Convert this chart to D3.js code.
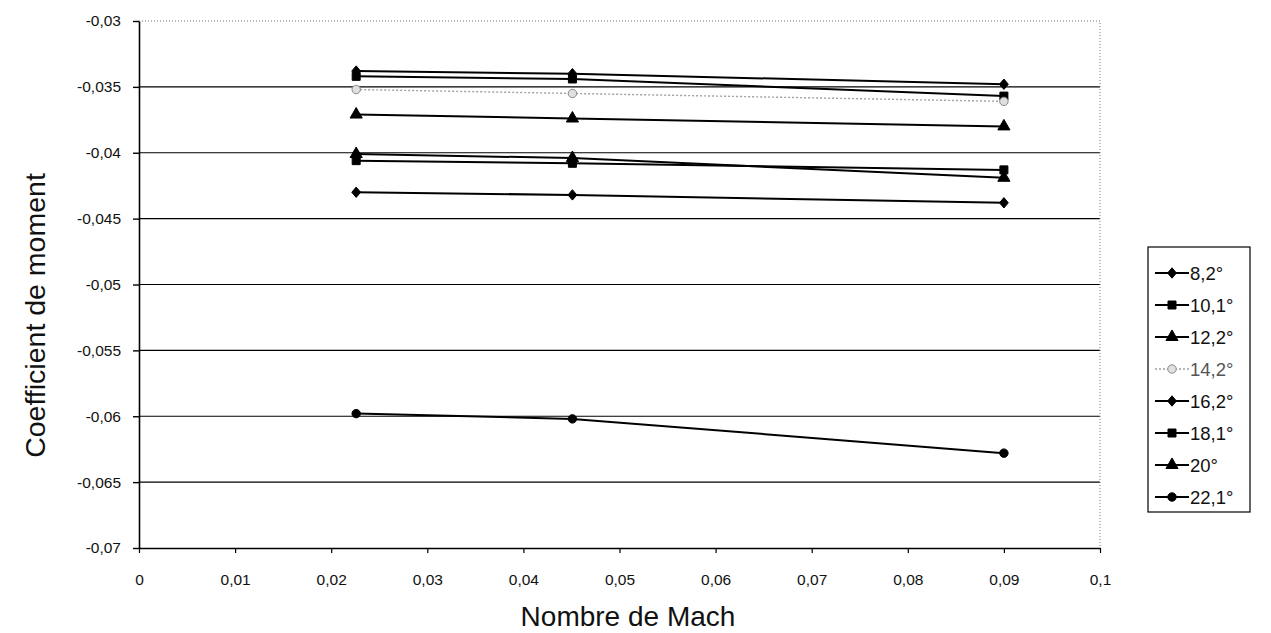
<!DOCTYPE html>
<html>
<head>
<meta charset="utf-8">
<script src="https://cdn.jsdelivr.net/npm/d3@7"></script>
<style>
  html, body { margin: 0; padding: 0; background: #fff; }
  svg { display: block; font-family: Arial, "Liberation Sans", sans-serif; }
</style>
</head>
<body>
<svg id="chart" width="1271" height="633"></svg>
<script>
// Mach numbers at which the moment coefficient was measured
const mach = [0.0226, 0.0451, 0.0900];

// Angle-of-attack series names
const seriesNames = ["8,2°", "10,1°", "12,2°", "14,2°", "16,2°", "18,1°", "20°", "22,1°"];

// Moment coefficient per series (one value per Mach number)
const cm_8_2  = [-0.0338, -0.0340, -0.0348];
const cm_10_1 = [-0.0342, -0.0344, -0.0357];
const cm_12_2 = [-0.0371, -0.0374, -0.0380];
const cm_14_2 = [-0.0352, -0.0355, -0.0361];
const cm_16_2 = [-0.0430, -0.0432, -0.0438];
const cm_18_1 = [-0.0406, -0.0408, -0.0413];
const cm_20   = [-0.0401, -0.0404, -0.0419];
const cm_22_1 = [-0.0598, -0.0602, -0.0628];

const seriesValues = [cm_8_2, cm_10_1, cm_12_2, cm_14_2, cm_16_2, cm_18_1, cm_20, cm_22_1];
const seriesMarkers = ["diamond", "square", "triangle", "circle", "diamond", "square", "triangle", "circle"];

// Axis ticks and their labels
const xTicks = [0, 0.01, 0.02, 0.03, 0.04, 0.05, 0.06, 0.07, 0.08, 0.09, 0.1];
const xTickLabels = ["0", "0,01", "0,02", "0,03", "0,04", "0,05", "0,06", "0,07", "0,08", "0,09", "0,1"];
const yTicks = [-0.03, -0.035, -0.04, -0.045, -0.05, -0.055, -0.06, -0.065, -0.07];
const yTickLabels = ["-0,03", "-0,035", "-0,04", "-0,045", "-0,05", "-0,055", "-0,06", "-0,065", "-0,07"];

const svg = d3.select("#chart");
const plot = { left: 139, right: 1100, top: 21, bottom: 548 };

const x = d3.scaleLinear().domain([0, 0.1]).range([plot.left, plot.right]);
const y = d3.scaleLinear().domain([-0.07, -0.03]).range([plot.bottom, plot.top]);

const FONT = "Arial, 'Liberation Sans', sans-serif";

// Horizontal gridlines
svg.append("g")
  .selectAll("line")
  .data(yTicks.filter(v => v !== -0.03 && v !== -0.07))
  .join("line")
  .attr("x1", plot.left).attr("x2", plot.right)
  .attr("y1", d => y(d)).attr("y2", d => y(d))
  .attr("stroke", "#000").attr("stroke-width", 1.2);

// Dotted frame on top and right
svg.append("path")
  .attr("d", `M${plot.left},${plot.top}H${plot.right}V${plot.bottom}`)
  .attr("fill", "none").attr("stroke", "#777")
  .attr("stroke-width", 1).attr("stroke-dasharray", "1,2");

// Y axis
const yAxis = d3.axisLeft(y)
  .tickValues(yTicks)
  .tickFormat((d, i) => yTickLabels[i])
  .tickSize(6).tickSizeOuter(0).tickPadding(12);
const gy = svg.append("g").attr("transform", `translate(${plot.left},0)`).call(yAxis);
gy.select(".domain").attr("stroke", "#000").attr("stroke-width", 1.6);
gy.selectAll(".tick line").attr("stroke", "#000").attr("stroke-width", 1.4);
gy.selectAll(".tick text").attr("font-size", 15.5).attr("fill", "#111")
  .attr("font-family", FONT);

// X axis
const xAxis = d3.axisBottom(x)
  .tickValues(xTicks)
  .tickFormat((d, i) => xTickLabels[i])
  .tickSize(5).tickSizeOuter(0).tickPadding(21);
const gx = svg.append("g").attr("transform", `translate(0,${plot.bottom})`).call(xAxis);
gx.select(".domain").attr("stroke", "#000").attr("stroke-width", 1.6);
gx.selectAll(".tick line").attr("stroke", "#000").attr("stroke-width", 1.2);
gx.selectAll(".tick text").attr("font-size", 15.5).attr("fill", "#111")
  .attr("font-family", FONT);

// Axis titles
svg.append("text")
  .attr("x", 628).attr("y", 626)
  .attr("text-anchor", "middle").attr("font-size", 28).attr("fill", "#111")
  .text("Nombre de Mach");
svg.append("text")
  .attr("transform", `translate(45,${(plot.top + plot.bottom) / 2 + 31}) rotate(-90)`)
  .attr("text-anchor", "middle").attr("font-size", 28.5).attr("fill", "#111")
  .text("Coefficient de moment");

// Marker shapes
const diamondPath = r => `M0,${-r}L${r * 0.85},0L0,${r}L${-r * 0.85},0Z`;
const symbolFor = {
  diamond: () => diamondPath(5.2),
  square: d3.symbol().type(d3.symbolSquare).size(64),
  triangle: d3.symbol().type(d3.symbolTriangle).size(64),
  circle: d3.symbol().type(d3.symbolCircle).size(56)
};
function styleOf(i) {
  return i === 3
    ? { stroke: "#a0a0a0", width: 1.4, dash: "2,2", fill: "#e0e0e0", mstroke: "#8a8a8a", text: "#555" }
    : { stroke: "#000", width: 2, dash: null, fill: "#000", mstroke: "#000", text: "#111" };
}

const line = d3.line().x((d, i) => x(mach[i])).y(d => y(d));

// Series lines and markers
const gSeries = svg.append("g");
seriesValues.forEach((vals, i) => {
  const s = styleOf(i);
  const g = gSeries.append("g");
  g.append("path")
    .attr("d", line(vals))
    .attr("fill", "none").attr("stroke", s.stroke)
    .attr("stroke-width", s.width).attr("stroke-dasharray", s.dash);
  g.selectAll("path.m")
    .data(vals)
    .join("path").attr("class", "m")
    .attr("transform", (d, j) => `translate(${x(mach[j])},${y(d)})`)
    .attr("d", symbolFor[seriesMarkers[i]]())
    .attr("fill", s.fill).attr("stroke", s.mstroke).attr("stroke-width", 1);
});

// Legend
const legend = svg.append("g").attr("transform", "translate(1148,247)");
legend.append("rect")
  .attr("x", 0).attr("y", 0).attr("width", 102).attr("height", 265)
  .attr("fill", "#fff").attr("stroke", "#000").attr("stroke-width", 1.2);
seriesNames.forEach((name, i) => {
  const s = styleOf(i);
  const cy = 26 + i * 32;
  const row = legend.append("g").attr("transform", `translate(0,${cy})`);
  row.append("line")
    .attr("x1", 7).attr("x2", 41).attr("y1", 0).attr("y2", 0)
    .attr("stroke", s.stroke).attr("stroke-width", s.width).attr("stroke-dasharray", s.dash);
  row.append("path")
    .attr("transform", "translate(24,0)")
    .attr("d", symbolFor[seriesMarkers[i]]())
    .attr("fill", s.fill).attr("stroke", s.mstroke).attr("stroke-width", 1);
  row.append("text")
    .attr("x", 42).attr("y", 7)
    .attr("font-size", 18.5).attr("fill", s.text)
    .text(name);
});
</script>
</body>
</html>
